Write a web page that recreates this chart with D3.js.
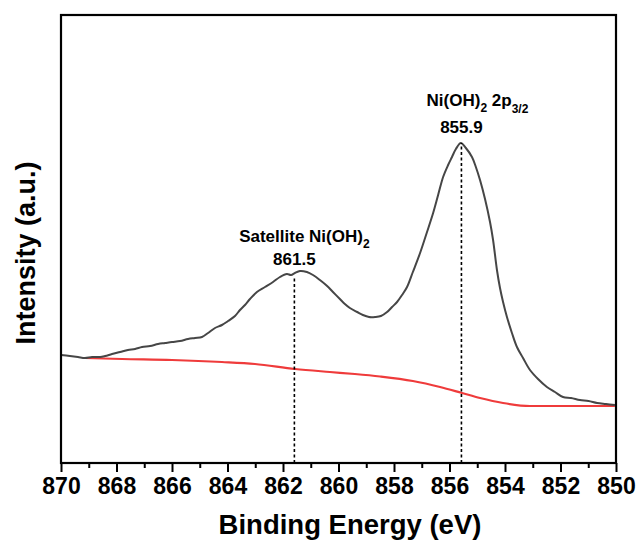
<!DOCTYPE html>
<html>
<head>
<meta charset="utf-8">
<script src="https://cdn.jsdelivr.net/npm/d3@7"></script>
<style>
  html, body { margin: 0; padding: 0; background: #fff; }
  svg { display: block; font-family: "Liberation Sans", Arial, sans-serif; }
</style>
</head>
<body>
<svg id="chart" width="637" height="540"></svg>
<script>
// ---- data ----
const energy = [870.00,869.68,869.39,869.14,868.88,868.59,868.41,868.16,867.87,867.59,867.33,867.08,866.79,866.50,866.25,866.00,865.71,865.42,865.17,864.92,864.70,864.45,864.20,863.98,863.73,863.55,863.37,863.19,862.94,862.65,862.36,862.11,861.86,861.71,861.57,861.39,861.14,860.92,860.67,860.41,860.20,859.95,859.77,859.59,859.33,859.12,858.90,858.68,858.47,858.25,858.07,857.89,857.71,857.53,857.32,857.06,856.81,856.59,856.41,856.23,856.05,855.91,855.77,855.59,855.41,855.19,855.05,854.90,854.72,854.54,854.43,854.29,854.18,854.07,853.93,853.75,853.57,853.35,853.10,852.81,852.49,852.20,851.91,851.62,851.30,850.99,850.68,850.36,850.04];
const intensity = [108,107,106,105,106,106,107,109,111,113,114,116,117,119,120,121,122,124,125,126,130,135,138,142,147,153,158,164,171,176,181,186,189,188,190,192,191,188,183,177,171,164,159,155,151,148,146,146,147,151,156,161,168,176,191,210,231,250,268,286,298,306,314,320,315,306,296,283,264,241,223,193,175,161,146,130,116,105,93,84,76,71,66,65,63,62,60,59,58];
const bgEnergy = [869.14,867.80,866.00,864.20,863.01,861.57,860.31,859.41,858.50,857.32,856.34,855.55,854.90,854.07,853.10,851.30,850.04];
const bgIntensity = [105,104,103,101,99,94,91,89,86.5,82,76,70,65,60,57,57,57];
const peakEnergy = [861.59, 855.57];
const peakTop = [186, 320];
const xTicks = [870,868,866,864,862,860,858,856,854,852,850];
const xMinorTicks = [869,867,865,863,861,859,857,855,853,851];

// ---- layout ----
const svg = d3.select("#chart");
const L = 61, R = 616, T = 15, B = 463;
const x = d3.scaleLinear().domain([870, 850]).range([L, R]);
const y = d3.scaleLinear().domain([0, 448]).range([B, T]);

// background (Shirley) line
const bgData = bgEnergy.map((e, i) => [e, bgIntensity[i]]);
svg.append("path").datum(bgData)
  .attr("d", d3.line().x(d => x(d[0])).y(d => y(d[1])).curve(d3.curveMonotoneX))
  .attr("fill", "none").attr("stroke", "#ef3b3b").attr("stroke-width", 2.2);

// spectrum
const specData = energy.map((e, i) => [e, intensity[i]]);
svg.append("path").datum(specData)
  .attr("d", d3.line().x(d => x(d[0])).y(d => y(d[1])).curve(d3.curveCatmullRom.alpha(0.5)))
  .attr("fill", "none").attr("stroke", "#464646").attr("stroke-width", 2)
  .attr("stroke-linejoin", "round");

// dashed peak markers
peakEnergy.forEach((e, i) => {
  svg.append("line")
    .attr("x1", x(e)).attr("x2", x(e))
    .attr("y1", B).attr("y2", y(peakTop[i]))
    .attr("stroke", "#000").attr("stroke-width", 1.6)
    .attr("stroke-dasharray", "3,2.5");
});

// frame
svg.append("rect").attr("x", L).attr("y", T).attr("width", R - L).attr("height", B - T)
  .attr("fill", "none").attr("stroke", "#000").attr("stroke-width", 2.2);

// x axis ticks
const ax = svg.append("g").attr("transform", `translate(0,${B})`)
  .call(d3.axisBottom(x).tickValues(xTicks).tickSize(9).tickFormat(d3.format("d")).tickPadding(6));
ax.select(".domain").remove();
ax.selectAll(".tick line").attr("stroke", "#000").attr("stroke-width", 2);
ax.selectAll(".tick text").attr("font-size", 23).attr("font-weight", "bold")
  .attr("fill", "#000").attr("font-family", "Liberation Sans, Arial, sans-serif");
const axm = svg.append("g").attr("transform", `translate(0,${B})`)
  .call(d3.axisBottom(x).tickValues(xMinorTicks).tickSize(5).tickFormat(""));
axm.select(".domain").remove();
axm.selectAll(".tick line").attr("stroke", "#000").attr("stroke-width", 2);

// axis titles
svg.append("text").attr("x", 350).attr("y", 534).attr("text-anchor", "middle")
  .attr("font-size", 27.5).attr("font-weight", "bold").attr("fill", "#000")
  .text("Binding Energy (eV)");
svg.append("text").attr("transform", "translate(35,253) rotate(-90)").attr("text-anchor", "middle")
  .attr("font-size", 27).attr("font-weight", "bold").attr("fill", "#000")
  .text("Intensity (a.u.)");

// annotations
function label(cx, cy, parts) {
  const t = svg.append("text").attr("x", cx).attr("y", cy).attr("text-anchor", "middle")
    .attr("font-weight", "bold").attr("fill", "#000");
  parts.forEach(p => {
    t.append("tspan").attr("font-size", p.sub ? 12 : 17)
      .attr("dy", p.dy || 0).text(p.t);
  });
}
label(x(peakEnergy[0]) + 10, 242, [{t: "Satellite Ni(OH)"}, {t: "2", sub: true, dy: 6}]);
label(x(peakEnergy[0]), 265, [{t: "861.5"}]);
label(x(peakEnergy[1]) + 16, 106, [{t: "Ni(OH)"}, {t: "2", sub: true, dy: 6}, {t: " 2p", dy: -6}, {t: "3/2", sub: true, dy: 7}]);
label(x(peakEnergy[1]), 133, [{t: "855.9"}]);
</script>
</body>
</html>
